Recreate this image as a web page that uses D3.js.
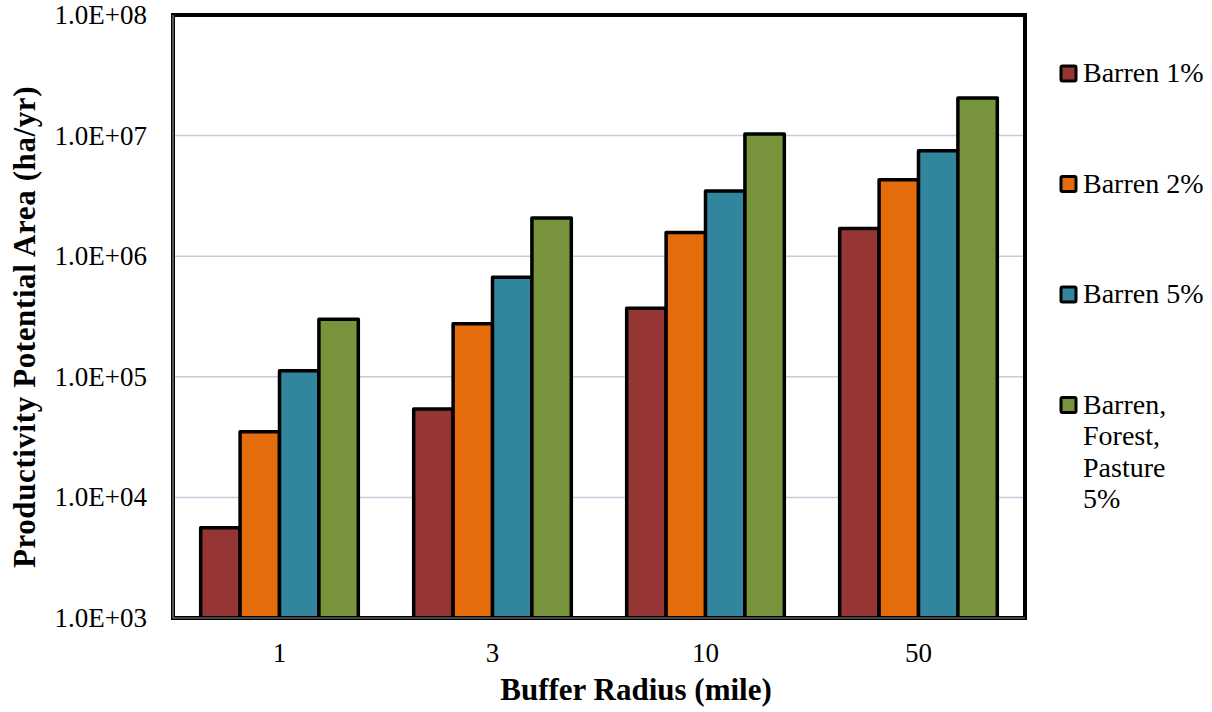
<!DOCTYPE html>
<html>
<head>
<meta charset="utf-8">
<script src="https://cdn.jsdelivr.net/npm/d3@7"></script>
<style>
body { margin: 0; background: #fff; }
text { font-family: 'Liberation Serif', serif; fill: #000; }
</style>
</head>
<body>
<svg id="chart" width="1212" height="712"></svg>
<script>
var radii = ['1', '3', '10', '50']
var seriesNames = ['Barren 1%', 'Barren 2%', 'Barren 5%', 'Barren, Forest, Pasture 5%']
var legendLines = [['Barren 1%'], ['Barren 2%'], ['Barren 5%'], ['Barren,', 'Forest,', 'Pasture', '5%']]
var colors = ['#963634', '#E46C0A', '#31859C', '#77933C']
var barren1 = [5600, 54000, 370000, 1700000]
var barren2 = [35000, 275000, 1570000, 4300000]
var barren5 = [112000, 670000, 3470000, 7500000]
var bfp5 = [300000, 2070000, 10300000, 20500000]
var yTicks = [1e3, 1e4, 1e5, 1e6, 1e7, 1e8]
var yTickLabels = ['1.0E+03', '1.0E+04', '1.0E+05', '1.0E+06', '1.0E+07', '1.0E+08']

var series = [barren1, barren2, barren5, bfp5]

var pl = 173, pr = 1025, pt = 15, pb = 618
var svg = d3.select('#chart')

var x = d3.scaleBand().domain(radii).range([pl, pr]).paddingInner(0.26).paddingOuter(0.13)
var xs = d3.scaleBand().domain(d3.range(series.length)).range([0, x.bandwidth()])
var y = d3.scaleLog().domain([1e3, 1e8]).range([pb, pt])

// gridlines
svg.append('g').selectAll('line').data(yTicks.slice(1, -1)).join('line')
	.attr('x1', pl).attr('x2', pr)
	.attr('y1', d => y(d)).attr('y2', d => y(d))
	.attr('stroke', '#c3cbdc').attr('stroke-width', 1.5)

// bars
var bars = svg.append('g')
series.forEach(function(vals, s) {
	bars.append('g').selectAll('rect').data(vals).join('rect')
		.attr('x', (d, i) => x(radii[i]) + xs(s))
		.attr('width', xs.bandwidth())
		.attr('y', d => y(d))
		.attr('height', d => pb - y(d))
		.attr('fill', colors[s])
		.attr('stroke', '#000').attr('stroke-width', 3.5)
		.attr('stroke-linejoin', 'round')
})

// frame
svg.append('rect').attr('x', pl).attr('y', pt)
	.attr('width', pr - pl).attr('height', pb - pt)
	.attr('fill', 'none').attr('stroke', '#000').attr('stroke-width', 4)
svg.append('path')
	.attr('d', 'M' + pl + ',' + pt + 'V' + pb + 'H' + pr)
	.attr('fill', 'none').attr('stroke', '#8a8a8a').attr('stroke-width', 1.2)

// y axis labels
svg.append('g').selectAll('text').data(yTicks).join('text')
	.attr('x', 147).attr('y', d => y(d) + 9)
	.attr('text-anchor', 'end').style('font-size', '27px')
	.text((d, i) => yTickLabels[i])

// x axis labels
svg.append('g').selectAll('text').data(radii).join('text')
	.attr('x', d => x(d) + x.bandwidth() / 2).attr('y', 662)
	.attr('text-anchor', 'middle').style('font-size', '27px')
	.text(d => d)

// axis titles
svg.append('text').attr('x', 636).attr('y', 700)
	.attr('text-anchor', 'middle').style('font-size', '31px').style('font-weight', 'bold')
	.text('Buffer Radius (mile)')
svg.append('text').attr('transform', 'translate(35,327) rotate(-90)')
	.attr('text-anchor', 'middle').style('font-size', '31px').style('font-weight', 'bold')
	.style('letter-spacing', '0.6px')
	.text('Productivity Potential Area (ha/yr)')

// legend
var leg = svg.append('g').selectAll('g').data(seriesNames).join('g')
	.attr('transform', (d, i) => 'translate(1061,' + (82 + i * 110.5) + ')')
leg.append('rect').attr('x', 0).attr('y', -16).attr('width', 15).attr('height', 15)
	.attr('fill', (d, i) => colors[i]).attr('stroke', '#000').attr('stroke-width', 3)
	.attr('rx', 1.5)
leg.append('text').attr('x', 22).style('font-size', '28px')
	.selectAll('tspan').data((d, i) => legendLines[i]).join('tspan')
	.attr('x', 22).attr('dy', (d, j) => j ? 31.5 : 0)
	.text(d => d)
</script>
</body>
</html>
